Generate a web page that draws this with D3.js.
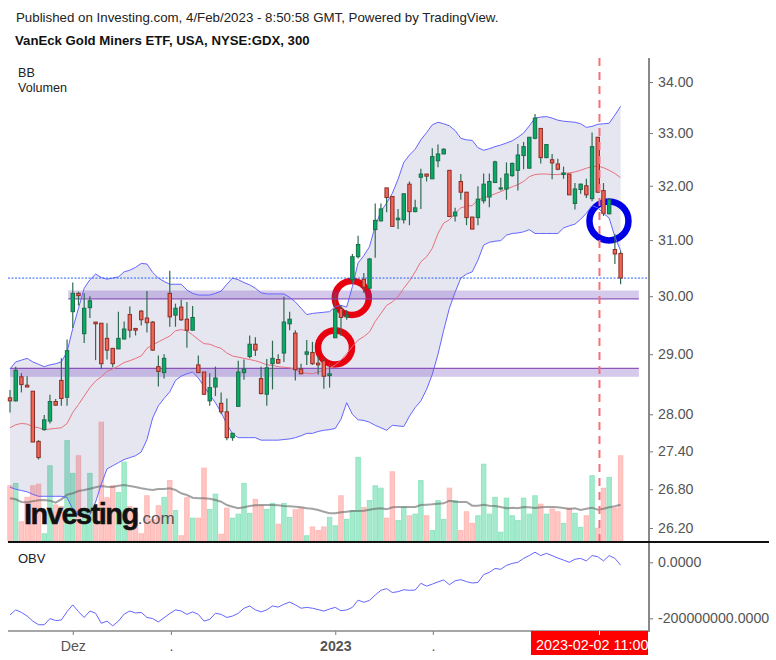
<!DOCTYPE html>
<html>

<head>
    <meta charset="UTF-8">
    <script src="https://d3js.org/d3.v7.min.js"></script>
    <style>
        html, body { margin: 0; padding: 0; background: #fff; }
        svg { display: block; }
        text { font-family: "Liberation Sans", Arial, sans-serif; }
        .axis path { display: none; }
        .axis line { stroke: #777; }
        .axis text { fill: #555; font-size: 14.2px; }
    </style>
</head>

<body>
    <svg></svg>

    <script>
        let width = 776, height = 660;

        // candles
        const opens = [
            28.27, 28.22, 28.62, 28.48, 28.38, 27.56, 27.75, 27.89, 28.21, 28.56,
            28.28, 29.73, 30.05, 29.35, 29.80, 29.55, 29.53, 29.27, 29.10, 29.09,
            29.26, 29.68, 29.44, 29.74, 29.62, 29.55, 28.79, 28.69, 30.05, 29.67,
            29.81, 29.60, 29.41, 28.82, 28.70, 28.22, 28.45, 28.18, 28.04, 27.62,
            28.13, 28.69, 28.96, 29.17, 28.59, 28.33, 28.84, 28.91, 29.02, 29.52,
            29.36, 28.75, 29.00, 29.03, 28.85, 28.89, 28.64, 29.28, 29.79, 29.64,
            30.29, 30.70, 30.30, 30.14, 31.19, 31.35, 31.96, 31.80, 31.37, 31.37,
            32.03, 31.52, 32.16, 32.22, 32.13, 32.47, 32.60, 32.29, 31.44, 32.08,
            31.88, 31.42, 31.41, 31.72, 31.79, 32.06, 31.94, 31.94, 32.19, 32.29,
            32.57, 32.33, 32.90, 33.09, 32.53, 32.49, 32.41, 32.21, 32.22, 31.67,
            31.93, 32.00, 31.76, 32.92, 31.91, 31.48, 30.83, 30.76];
        const highs = [
            28.40, 28.79, 28.68, 28.63, 28.38, 27.58, 27.99, 28.32, 28.25, 28.93,
            29.25, 30.24, 30.08, 30.05, 30.00, 29.55, 29.53, 29.53, 29.10, 29.73,
            29.56, 29.82, 29.45, 29.76, 30.09, 29.57, 28.98, 29.00, 30.45, 29.87,
            29.94, 29.90, 29.83, 28.98, 28.70, 28.68, 28.79, 28.36, 28.26, 27.70,
            28.89, 28.91, 29.32, 29.29, 28.79, 28.92, 29.23, 29.00, 29.99, 29.73,
            29.41, 28.84, 29.24, 29.21, 28.96, 28.93, 28.85, 30.05, 29.84, 29.76,
            30.75, 31.08, 30.41, 30.68, 31.67, 31.67, 31.96, 31.80, 31.57, 31.86,
            32.08, 31.74, 32.32, 32.22, 32.71, 32.78, 32.71, 32.29, 31.59, 32.22,
            31.88, 31.42, 31.99, 32.23, 32.23, 32.47, 32.15, 32.44, 32.44, 32.79,
            32.83, 32.92, 33.37, 33.09, 32.79, 32.60, 32.51, 32.36, 32.22, 32.05,
            32.04, 32.13, 33.01, 32.92, 32.05, 31.77, 31.11, 30.81];
        const lows = [
            28.03, 28.21, 28.36, 28.45, 27.55, 27.27, 27.73, 27.85, 28.14, 28.14,
            28.14, 29.45, 29.84, 29.19, 29.62, 28.90, 28.75, 28.91, 28.78, 29.09,
            29.25, 29.28, 29.32, 29.49, 29.37, 29.06, 28.46, 28.59, 29.47, 29.47,
            29.57, 29.11, 29.41, 28.69, 28.32, 28.14, 28.30, 28.00, 27.58, 27.57,
            28.13, 28.57, 28.93, 28.97, 28.33, 28.14, 28.41, 28.84, 28.87, 29.41,
            28.56, 28.67, 28.82, 28.82, 28.66, 28.42, 28.44, 29.28, 29.31, 29.59,
            30.23, 30.67, 30.06, 30.14, 30.68, 31.34, 31.51, 31.25, 31.20, 31.30,
            31.27, 31.51, 31.57, 32.08, 32.13, 32.35, 32.60, 31.42, 31.34, 31.74,
            31.27, 31.20, 31.27, 31.67, 31.60, 32.05, 31.91, 31.74, 32.17, 31.91,
            32.31, 32.33, 32.88, 32.42, 32.52, 32.12, 32.29, 32.13, 31.83, 31.56,
            31.85, 31.77, 31.71, 31.87, 31.44, 31.47, 30.57, 30.21];
        const closes = [
            28.22, 28.73, 28.49, 28.45, 27.55, 27.30, 27.91, 28.21, 28.15, 28.26,
            29.06, 30.05, 30.01, 29.79, 29.92, 29.52, 28.84, 29.07, 28.84, 29.27,
            29.43, 29.41, 29.41, 29.59, 29.54, 29.07, 28.71, 28.93, 29.64, 29.79,
            29.59, 29.41, 29.63, 28.69, 28.33, 28.44, 28.60, 28.04, 27.62, 27.69,
            28.70, 28.75, 29.17, 29.07, 28.34, 28.77, 28.93, 28.85, 29.55, 29.60,
            28.74, 28.67, 29.04, 28.84, 28.82, 28.63, 28.67, 29.77, 29.63, 29.67,
            30.70, 30.92, 30.16, 30.66, 31.36, 31.57, 31.78, 31.25, 31.40, 31.85,
            31.52, 31.59, 32.22, 32.18, 32.55, 32.60, 32.69, 31.43, 31.51, 31.88,
            31.41, 31.20, 31.75, 32.03, 32.08, 32.45, 31.96, 32.22, 32.42, 32.58,
            32.74, 32.92, 33.29, 32.53, 32.78, 32.43, 32.31, 32.24, 31.83, 31.94,
            32.03, 31.83, 32.74, 31.88, 31.49, 31.74, 30.75, 30.32];

        // bollinger bands
        const bbUpper = [
            28.75, 28.87, 28.90, 28.93, 28.87, 28.83, 28.79, 28.82, 28.84, 28.87,
            29.04, 29.44, 29.79, 30.14, 30.29, 30.39, 30.33, 30.30, 30.32, 30.34,
            30.43, 30.46, 30.51, 30.58, 30.57, 30.42, 30.32, 30.26, 30.21, 30.21,
            30.21, 30.11, 30.05, 30.02, 30.02, 30.02, 30.05, 30.09, 30.21, 30.32,
            30.29, 30.24, 30.20, 30.14, 30.06, 30.04, 30.04, 30.04, 30.04, 29.98,
            29.90, 29.79, 29.68, 29.70, 29.71, 29.72, 29.73, 29.82, 29.84, 29.81,
            30.17, 30.59, 30.72, 30.88, 31.26, 31.52, 31.68, 31.86, 32.12, 32.44,
            32.58, 32.69, 32.87, 33.01, 33.16, 33.21, 33.18, 33.14, 33.05, 32.90,
            32.87, 32.86, 32.72, 32.67, 32.70, 32.74, 32.77, 32.81, 32.85, 32.92,
            33.00, 33.14, 33.29, 33.31, 33.32, 33.29, 33.25, 33.23, 33.22, 33.21,
            33.18, 33.11, 33.13, 33.17, 33.18, 33.19, 33.35, 33.52];
        const bbBasis = [
            27.78, 27.83, 27.85, 27.84, 27.80, 27.78, 27.75, 27.76, 27.77, 27.78,
            27.85, 28.03, 28.16, 28.30, 28.44, 28.55, 28.62, 28.71, 28.75, 28.80,
            28.86, 28.89, 28.93, 28.97, 29.10, 29.16, 29.21, 29.26, 29.31, 29.40,
            29.42, 29.40, 29.33, 29.25, 29.18, 29.17, 29.13, 29.10, 29.02, 28.97,
            28.95, 28.93, 28.91, 28.89, 28.86, 28.82, 28.81, 28.79, 28.78, 28.77,
            28.74, 28.69, 28.68, 28.67, 28.70, 28.74, 28.77, 28.82, 28.90, 29.01,
            29.13, 29.24, 29.30, 29.38, 29.56, 29.70, 29.84, 29.90, 29.99, 30.14,
            30.27, 30.43, 30.61, 30.70, 30.85, 31.12, 31.31, 31.37, 31.49, 31.59,
            31.62, 31.63, 31.74, 31.77, 31.81, 31.85, 31.89, 31.94, 31.98, 32.02,
            32.08, 32.17, 32.21, 32.22, 32.22, 32.21, 32.21, 32.23, 32.24, 32.26,
            32.29, 32.33, 32.36, 32.37, 32.34, 32.29, 32.23, 32.15];
        const bbLower = [
            26.83, 26.80, 26.78, 26.76, 26.72, 26.69, 26.69, 26.69, 26.69, 26.69,
            26.67, 26.49, 26.39, 26.37, 26.40, 26.60, 26.88, 27.12, 27.17, 27.22,
            27.27, 27.30, 27.33, 27.39, 27.59, 27.94, 28.14, 28.26, 28.37, 28.56,
            28.63, 28.67, 28.70, 28.60, 28.46, 28.32, 28.19, 28.03, 27.84, 27.68,
            27.62, 27.62, 27.62, 27.62, 27.58, 27.58, 27.58, 27.58, 27.59, 27.60,
            27.62, 27.65, 27.69, 27.69, 27.72, 27.74, 27.75, 27.77, 27.92, 28.19,
            28.00, 27.91, 27.90, 27.87, 27.82, 27.78, 27.74, 27.82, 27.81, 27.80,
            27.97, 28.11, 28.22, 28.41, 28.66, 29.00, 29.41, 29.79, 30.07, 30.32,
            30.39, 30.43, 30.64, 30.91, 30.96, 30.98, 30.99, 31.09, 31.12, 31.13,
            31.15, 31.19, 31.12, 31.12, 31.12, 31.12, 31.12, 31.22, 31.26, 31.29,
            31.38, 31.49, 31.63, 31.59, 31.49, 31.40, 31.06, 30.81];

        // volume in millions and its moving average
        const volumes = [
            13.8, 14.4, 4.8, 10.9, 13.8, 14.2, 1.8, 18.8, 9.0, 8.6,
            25.1, 16.9, 21.3, 7.8, 16.9, 8.3, 29.7, 10.8, 13.8, 12.1,
            19.7, 8.6, 7.0, 1.8, 11.3, 5.3, 8.8, 10.9, 15.1, 7.6,
            1.3, 10.8, 5.7, 5.7, 18.2, 7.9, 11.7, 1.7, 8.2, 5.7,
            6.7, 14.4, 6.9, 10.4, 8.8, 7.9, 9.4, 4.2, 9.4, 5.9,
            7.8, 8.2, 1.3, 3.5, 2.6, 3.5, 5.9, 3.8, 11.3, 5.4,
            7.6, 20.9, 8.4, 10.1, 13.8, 13.2, 5.7, 17.3, 5.1, 8.4,
            6.3, 6.7, 15.1, 6.3, 2.6, 10.1, 5.4, 13.2, 10.1, 2.6,
            7.3, 4.4, 6.3, 19.2, 6.7, 10.9, 2.2, 10.7, 6.3, 5.1,
            10.7, 6.7, 11.3, 9.2, 6.7, 8.0, 7.3, 4.4, 8.2, 6.9,
            3.4, 6.3, 16.3, 3.2, 13.2, 15.9, 8.2, 21.3];
        const volumeMa = [
            10.67, 10.42, 9.75, 9.67, 9.92, 10.17, 10.25, 10.08, 9.58, 10.42,
            11.58, 11.92, 12.50, 12.75, 13.08, 13.42, 13.75, 13.58, 13.50, 13.83,
            14.00, 13.75, 13.50, 13.17, 12.92, 12.75, 13.00, 13.00, 13.17, 12.75,
            11.92, 11.50, 10.83, 10.67, 10.67, 10.58, 10.25, 9.83, 9.00, 8.58,
            8.17, 8.42, 8.75, 8.92, 9.00, 9.00, 9.00, 8.92, 8.75, 8.67,
            8.58, 8.42, 8.17, 8.08, 7.75, 7.33, 6.92, 6.92, 7.17, 7.33,
            7.50, 7.50, 7.58, 7.83, 8.08, 8.17, 7.92, 8.42, 8.50, 8.50,
            8.50, 8.50, 9.00, 9.08, 9.17, 9.33, 9.42, 10.08, 9.83, 9.75,
            9.75, 8.83, 8.83, 9.08, 8.83, 8.75, 8.50, 8.17, 8.33, 8.17,
            8.50, 8.42, 8.25, 8.42, 8.50, 8.50, 8.42, 8.25, 8.00, 8.17,
            7.75, 8.08, 8.33, 7.83, 8.08, 8.42, 8.67, 9.08];

        // on balance volume in millions
        const obv = [
            -188, -170, -179, -192, -210, -223, -223, -201, -208, -206,
            -176, -152, -176, -197, -174, -182, -218, -210, -227, -210,
            -185, -174, -181, -179, -197, -201, -213, -198, -183, -170,
            -174, -186, -177, -186, -210, -204, -182, -186, -197, -192,
            -182, -164, -156, -170, -177, -170, -156, -160, -150, -142,
            -152, -164, -161, -164, -169, -174, -167, -161, -173, -170,
            -161, -135, -143, -136, -117, -100, -94, -108, -105, -98,
            -100, -99, -75, -85, -78, -70, -63, -80, -66, -62,
            -69, -74, -72, -44, -36, -22, -25, -11, -4, 0,
            14, 24, 36, 24, 32, 24, 15, 8, 0, 11,
            14, 5, 24, 20, 5, 24, 14, -10];

        // axes
        const priceTicks = [34, 33, 32, 31, 30, 29, 28, 27.4, 26.8, 26.2];
        const obvTicks = [0, -200];
        const timeTicks = [11, 28.2, 57, 74.1, 103.3];
        const timeLabels = ["Dez", ".", "2023", ".", ""];

        // drawings on the chart: [first bar, last bar, top price, bottom price, darker edge]
        const zones = [[10.2, 110.2, 30.10, 29.955, 29.955], [0, 110.2, 28.76, 28.62, 28.76]];
        const rings = [[59.9, 29.97, "#e8000f", 17], [56.95, 29.115, "#e8000f", 17], [104.96, 31.35, "#0000e6", 19.5]];
        const cursorBar = 103.3;

        const bars = d3.range(closes.length);

        let svg = d3.select("svg")
            .attr("width", width)
            .attr("height", height)
            .attr("viewBox", "0 0 " + width + " " + height);

        let x = d3.scaleLinear().domain([0, 107]).range([10, 620.6]);
        let y = d3.scaleLog().domain([34, 26.2]).range([82, 528]);
        let yVol = d3.scaleLinear().domain([0, 30]).range([541, 421]);
        let yObv = d3.scaleLinear().domain([0, -200]).range([562.3, 618.3]);

        // volume
        svg.append("g").selectAll("rect")
            .data(bars)
            .enter()
            .append("rect")
            .attr("x", i => x(i) - 2.2)
            .attr("width", 4.4)
            .attr("y", i => yVol(volumes[i]))
            .attr("height", i => yVol(0) - yVol(volumes[i]))
            .attr("fill", i => closes[i] >= opens[i] ? "#a5eacd" : "#ffc6c3")
            .attr("stroke", i => closes[i] >= opens[i] ? "#8fe5c0" : "#ffb8b4");

        // bollinger fill
        let bandArea = d3.area().x(i => x(i)).y0(i => y(bbLower[i])).y1(i => y(bbUpper[i]));
        svg.append("path")
            .attr("d", bandArea(bars))
            .attr("fill", "#3c3c96")
            .attr("fill-opacity", 0.13);

        let volLine = d3.line().x(i => x(i)).y(i => yVol(volumeMa[i]));
        svg.append("path")
            .attr("d", volLine(bars))
            .attr("fill", "none")
            .attr("stroke", "#666")
            .attr("stroke-opacity", 0.6)
            .attr("stroke-width", 2);

        // circles sit under the zones and the candles
        svg.append("g").selectAll("circle")
            .data(rings)
            .enter()
            .append("circle")
            .attr("cx", d => x(d[0]))
            .attr("cy", d => y(d[1]))
            .attr("r", d => d[3])
            .attr("fill", "none")
            .attr("stroke", d => d[2])
            .attr("stroke-width", 6.5);

        svg.append("g").selectAll("rect")
            .data(zones)
            .enter()
            .append("rect")
            .attr("x", d => x(d[0]))
            .attr("width", d => x(d[1]) - x(d[0]))
            .attr("y", d => y(d[2]))
            .attr("height", d => y(d[3]) - y(d[2]))
            .attr("fill", "#673ab7")
            .attr("fill-opacity", 0.27);
        svg.append("g").selectAll("line")
            .data(zones)
            .enter()
            .append("line")
            .attr("x1", d => x(d[0]))
            .attr("x2", d => x(d[1]))
            .attr("y1", d => y(d[4]))
            .attr("y2", d => y(d[4]))
            .attr("stroke", "#7e3fb0")
            .attr("stroke-opacity", 0.85)
            .attr("stroke-width", 1.2);

        // band lines
        let upperLine = d3.line().x(i => x(i)).y(i => y(bbUpper[i]));
        let basisLine = d3.line().x(i => x(i)).y(i => y(bbBasis[i]));
        let lowerLine = d3.line().x(i => x(i)).y(i => y(bbLower[i]));
        svg.append("path").attr("d", upperLine(bars)).attr("fill", "none").attr("stroke", "#6565ff");
        svg.append("path").attr("d", lowerLine(bars)).attr("fill", "none").attr("stroke", "#6565ff");
        svg.append("path").attr("d", basisLine(bars)).attr("fill", "none").attr("stroke", "#e8707c");

        // last price
        svg.append("line")
            .attr("x1", 8).attr("x2", 649)
            .attr("y1", y(closes[closes.length - 1])).attr("y2", y(closes[closes.length - 1]))
            .attr("stroke", "#2962ff")
            .attr("stroke-dasharray", "2,1.5");

        // candles
        let candle = svg.append("g").selectAll("g")
            .data(bars)
            .enter()
            .append("g");
        candle.append("line")
            .attr("x1", i => x(i)).attr("x2", i => x(i))
            .attr("y1", i => y(highs[i])).attr("y2", i => y(lows[i]))
            .attr("stroke", "#2f6b52")
            .attr("stroke-width", 1.2);
        candle.append("rect")
            .attr("x", i => x(i) - 1.7)
            .attr("width", 3.4)
            .attr("y", i => y(Math.max(opens[i], closes[i])))
            .attr("height", i => Math.abs(y(opens[i]) - y(closes[i])))
            .attr("fill", i => closes[i] >= opens[i] ? "#05ad64" : "#f0675a")
            .attr("stroke", i => closes[i] >= opens[i] ? "#1d6b4a" : "#8a2d24");

        // crosshair
        svg.append("line")
            .attr("x1", x(cursorBar)).attr("x2", x(cursorBar))
            .attr("y1", 58).attr("y2", 541)
            .attr("stroke", "#f2707a")
            .attr("stroke-width", 2)
            .attr("stroke-dasharray", "8,6");

        // obv pane
        let obvLine = d3.line().x(i => x(i)).y(i => yObv(obv[i]));
        svg.append("path")
            .attr("d", obvLine(bars))
            .attr("fill", "none")
            .attr("stroke", "#6565ff");

        // axes
        let priceAxis = d3.axisRight(y)
            .tickValues(priceTicks)
            .tickSize(4)
            .tickPadding(5)
            .tickFormat(d3.format(".2f"));
        svg.append("g")
            .attr("class", "axis")
            .attr("transform", "translate(649,0)")
            .call(priceAxis);

        let obvAxis = d3.axisRight(yObv)
            .tickValues(obvTicks)
            .tickSize(4)
            .tickPadding(5)
            .tickFormat(d => d == 0 ? "0.0000" : d3.format(".4f")(d * 1000000).replace("−", "-"));
        svg.append("g")
            .attr("class", "axis")
            .attr("transform", "translate(649,0)")
            .call(obvAxis);

        let timeAxis = d3.axisBottom(x)
            .tickValues(timeTicks)
            .tickSize(4)
            .tickPadding(6)
            .tickFormat((d, i) => timeLabels[i]);
        let timeG = svg.append("g")
            .attr("class", "axis")
            .attr("transform", "translate(0,631)")
            .call(timeAxis);
        timeG.selectAll("text").filter((d, i) => i == 2).style("font-weight", "bold");

        svg.append("line").attr("x1", 649).attr("x2", 649).attr("y1", 58).attr("y2", 632).attr("stroke", "#888").attr("stroke-width", 2);
        svg.append("line").attr("x1", 8).attr("x2", 649).attr("y1", 631).attr("y2", 631).attr("stroke", "#888").attr("stroke-width", 1.5);
        svg.append("line").attr("x1", 8).attr("x2", 769).attr("y1", 542).attr("y2", 542).attr("stroke", "#111").attr("stroke-width", 2);

        // cursor date box
        let clip = svg.append("clipPath").attr("id", "dateClip");
        clip.append("rect").attr("x", 531).attr("y", 631).attr("width", 117).attr("height", 24);
        svg.append("rect").attr("x", 531).attr("y", 631).attr("width", 117).attr("height", 24).attr("fill", "#ff0000");
        svg.append("line").attr("x1", x(cursorBar)).attr("x2", x(cursorBar)).attr("y1", 631).attr("y2", 635).attr("stroke", "#fff");
        svg.append("text")
            .attr("x", 536).attr("y", 650)
            .attr("clip-path", "url(#dateClip)")
            .attr("fill", "#fff")
            .style("font-size", "14.4px")
            .text("2023-02-02 11:00");

        // headers
        svg.append("text").attr("x", 16).attr("y", 22).attr("fill", "#222").style("font-size", "13.3px")
            .text("Published on Investing.com, 4/Feb/2023 - 8:50:58 GMT, Powered by TradingView.");
        svg.append("text").attr("x", 15).attr("y", 45).attr("fill", "#111").style("font-size", "13.2px").style("font-weight", "bold")
            .text("VanEck Gold Miners ETF, USA, NYSE:GDX, 300");
        svg.append("text").attr("x", 18).attr("y", 77).attr("fill", "#222").style("font-size", "12.6px").text("BB");
        svg.append("text").attr("x", 18).attr("y", 92).attr("fill", "#222").style("font-size", "12.6px").text("Volumen");
        svg.append("text").attr("x", 18).attr("y", 563).attr("fill", "#222").style("font-size", "13px").text("OBV");

        // logo
        let logo = svg.append("text").attr("x", 24).attr("y", 524);
        logo.append("tspan")
            .attr("fill", "#111")
            .attr("stroke", "#111")
            .attr("stroke-width", 0.5)
            .style("font-size", "29px")
            .style("font-weight", "bold")
            .style("letter-spacing", "-1.5px")
            .text("Investing");
        logo.append("tspan")
            .attr("fill", "#555")
            .style("font-size", "17px")
            .text(".com");
    </script>

</body>

</html>
